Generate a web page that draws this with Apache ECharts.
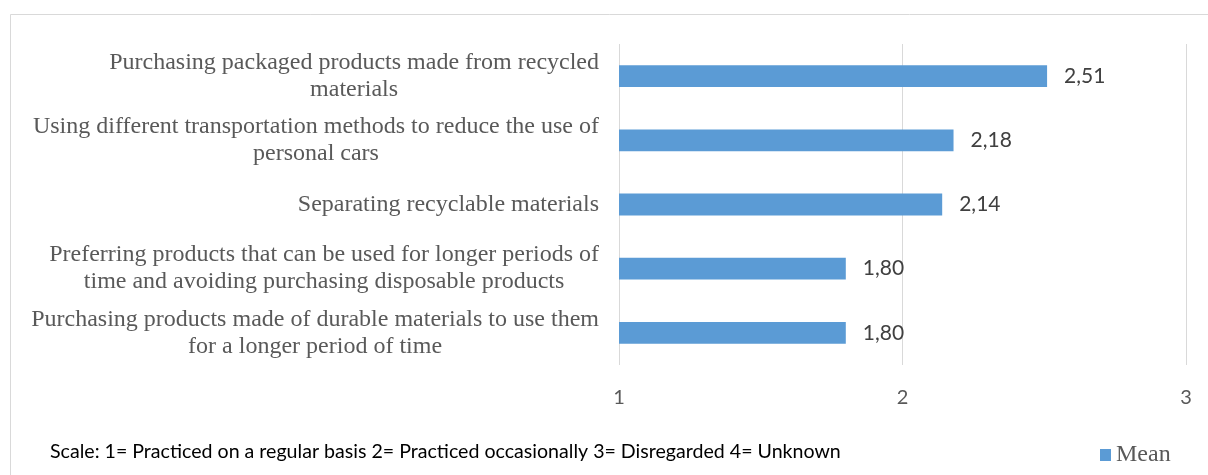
<!DOCTYPE html>
<html>
<head>
<meta charset="utf-8">
<script src="https://cdn.jsdelivr.net/npm/echarts@6/dist/echarts.min.js"></script>
<style>
  html, body { margin: 0; padding: 0; background: #fff; }
  #chart { width: 1208px; height: 475px; }
</style>
</head>
<body>
<div id="chart"></div>
<script>
// Practice items, listed bottom to top as the category axis draws them
const categories = [
  'Purchasing products made of durable materials to use them\nfor a longer period of time',
  'Preferring products that can be used for longer periods of\ntime and avoiding purchasing disposable products',
  'Separating recyclable materials',
  'Using different transportation methods to reduce the use of\npersonal cars',
  'Purchasing packaged products made from recycled\nmaterials'
];
const meanValues = [1.80, 1.80, 2.14, 2.18, 2.51];
const axisTicks = [1, 2, 3];
const seriesName = 'Mean';
const scaleNote = 'Scale: 1= Practiced on a regular basis 2= Practiced occasionally 3= Disregarded 4= Unknown';

const chart = echarts.init(document.getElementById('chart'));

chart.setOption({
  animation: false,
  backgroundColor: '#ffffff',
  graphic: [
    {
      type: 'rect',
      shape: { x: 10.5, y: 14.5, width: 1210, height: 480 },
      style: { fill: 'none', stroke: '#d9d9d9', lineWidth: 1 },
      silent: true, z: -1
    },
    {
      type: 'text',
      left: 50, top: 442,
      style: {
        text: scaleNote,
        font: '19.6px Lato, sans-serif',
        fill: '#000000'
      }
    }
  ],
  legend: {
    data: [seriesName],
    left: 1095, top: 438,
    itemWidth: 11, itemHeight: 12, itemGap: 4,
    icon: 'rect',
    textStyle: { fontFamily: '"Liberation Serif", serif', fontSize: 24, color: '#595959' }
  },
  grid: { left: 619, right: 22, top: 44, bottom: 110, containLabel: false },
  xAxis: {
    type: 'value',
    min: axisTicks[0],
    max: axisTicks[axisTicks.length - 1],
    interval: 1,
    axisLine: { show: false },
    axisTick: { show: false },
    splitLine: { lineStyle: { color: '#d9d9d9', width: 1 } },
    axisLabel: {
      margin: 23,
      fontFamily: 'Lato, sans-serif',
      fontSize: 20,
      color: '#595959'
    }
  },
  yAxis: {
    type: 'category',
    data: categories,
    axisLine: { show: false },
    axisTick: { show: false },
    axisLabel: {
      margin: 20,
      align: 'right',
      formatter: function (v) {
        return v.split('\n').map(function (s) { return '{c|' + s + '}'; }).join('\n');
      },
      rich: {
        c: {
          align: 'center',
          fontFamily: '"Liberation Serif", serif',
          fontSize: 24,
          lineHeight: 27,
          color: '#595959'
        }
      }
    }
  },
  series: [{
    name: seriesName,
    type: 'bar',
    data: meanValues,
    barWidth: '34%',
    itemStyle: { color: '#5b9bd5' },
    label: {
      show: true,
      position: 'right',
      distance: 17,
      fontFamily: 'Lato, sans-serif',
      fontSize: 21,
      color: '#404040',
      formatter: function (p) { return p.value.toFixed(2).replace('.', ','); }
    }
  }]
});
</script>
</body>
</html>
